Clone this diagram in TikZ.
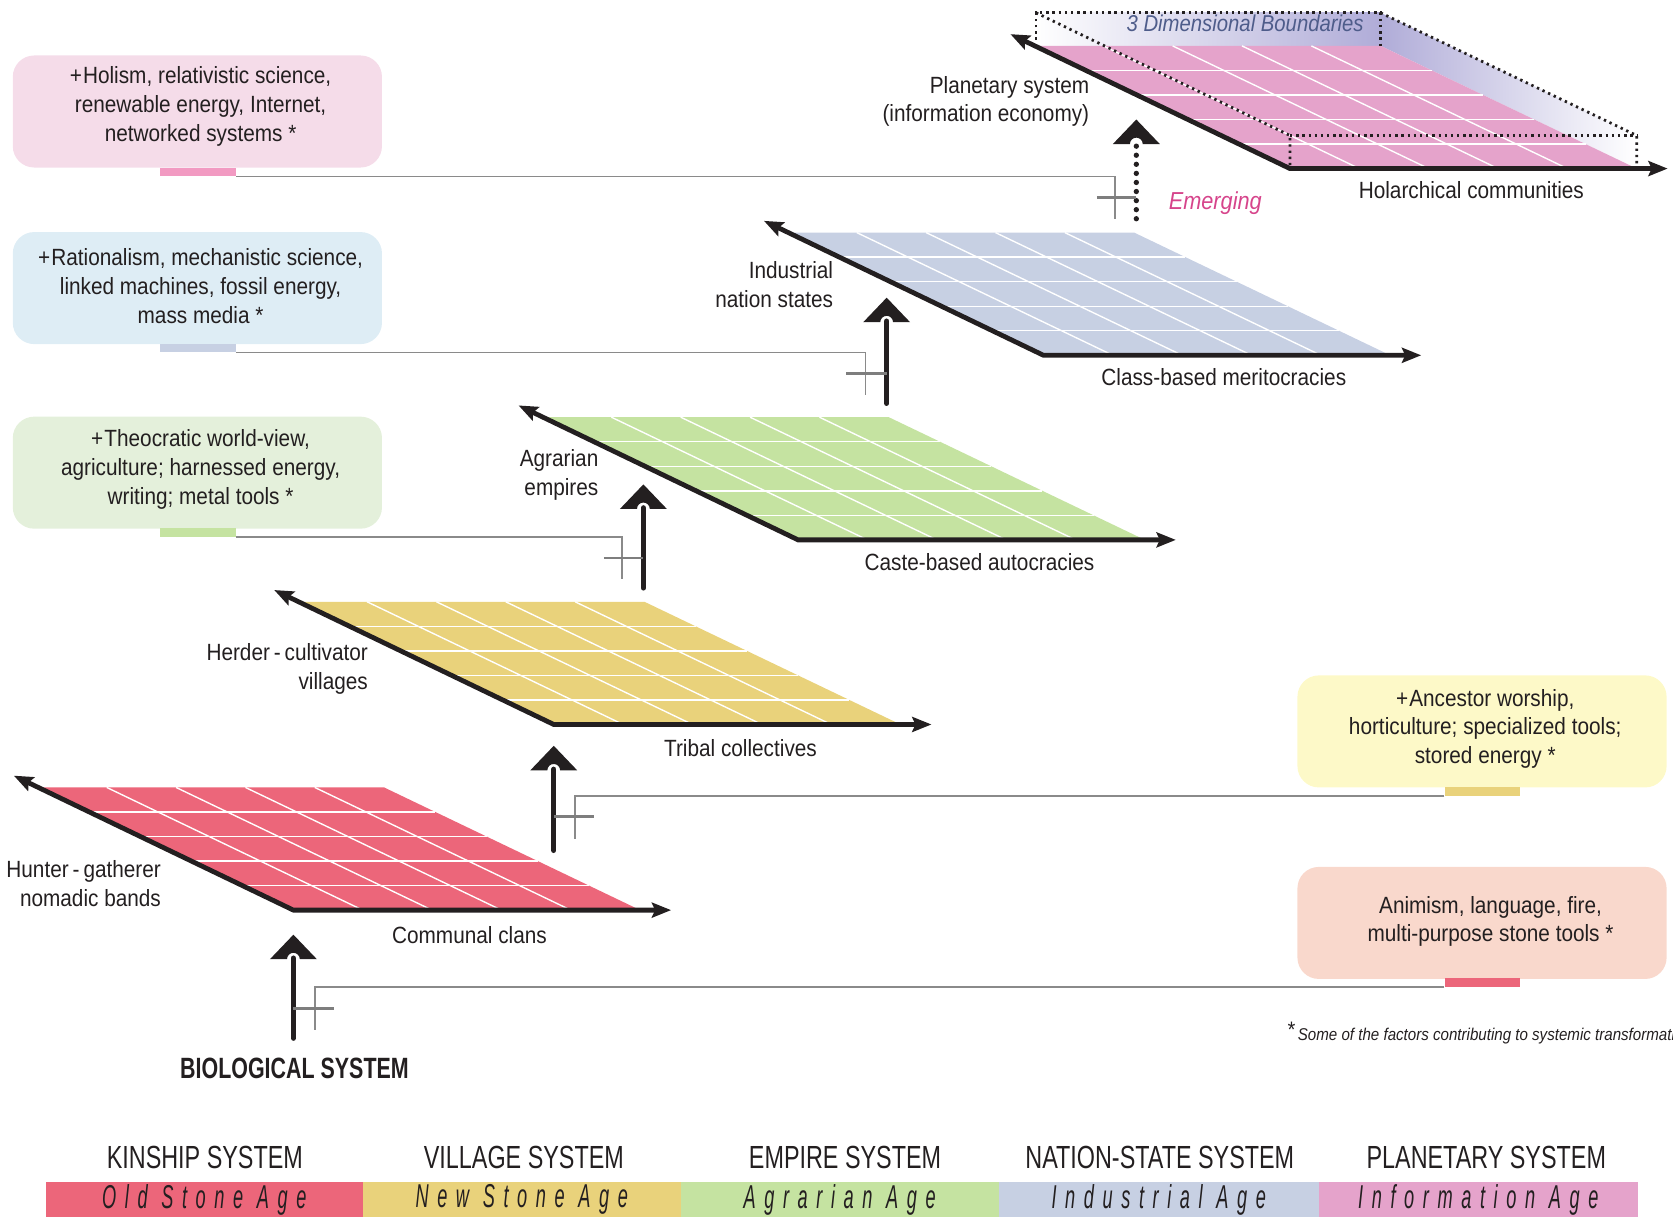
\documentclass[tikz,border=0pt]{standalone}
\usepackage{fontspec}
\setmainfont{Liberation Sans}[FakeStretch=0.885]
\newfontfamily\condfont{Liberation Sans}[FakeStretch=0.73]
\newfontfamily\agefont{Liberation Sans}[FakeStretch=0.55,LetterSpace=26]
\usetikzlibrary{arrows.meta}
\definecolor{ink}{HTML}{231F20}
\definecolor{cRed}{HTML}{EC667A}
\definecolor{cYel}{HTML}{E9D27B}
\definecolor{cGrn}{HTML}{C5E3A1}
\definecolor{cBlu}{HTML}{C7D0E3}
\definecolor{cPnk}{HTML}{E5A3CB}
\definecolor{bPnk}{HTML}{F5DCE9}
\definecolor{tPnk}{HTML}{F29AC2}
\definecolor{bBlu}{HTML}{DEEDF5}
\definecolor{bGrn}{HTML}{E4F0DB}
\definecolor{bYel}{HTML}{FDF9C8}
\definecolor{bRed}{HTML}{F9D8CC}
\definecolor{lav}{HTML}{B0ACD8}
\definecolor{emg}{HTML}{D6448B}
\definecolor{slate}{HTML}{4E5C8A}
\definecolor{connc}{HTML}{8A8A8A}
\definecolor{tickc}{HTML}{7E7E7E}

\newcommand\myplane[4]{% name, vx, vy, colour
  \coordinate (#1v) at (#2,#3);
  \coordinate (#1L) at ({#2-262},{#3-126});
  \coordinate (#1R) at ({#2+354},#3);
  \fill[#4] (#2,#3) -- ({#2+325},#3) -- ({#2+85},{#3-115}) -- ({#2-240},{#3-115}) -- cycle;
  \foreach \t in {0.2,0.4,0.6,0.8} {
    \draw[gridline] ({#2-240*\t},{#3-115*\t}) -- ({#2+325-240*\t},{#3-115*\t});
    \draw[gridline] ({#2-240+325*\t},{#3-115}) -- ({#2+325*\t},#3);
  }
  \draw[axisline] (#1L) -- (#1v) -- (#1R);
}
\newcommand\myhead[1]{%
  \fill[ink] (#1) -- ++(22,23) -- ++(-16,0) arc[start angle=0,end angle=-180,radius=6] -- ++(-16,0) -- cycle;
}

\begin{document}
\begin{tikzpicture}[x=1pt,y=-1pt,
  txt/.style={font=\fontsize{22}{27}\selectfont, text=ink, inner sep=0pt},
  factbox/.style={rounded corners=20pt, minimum width=346pt, minimum height=105pt, inner sep=0pt},
  tab/.style={minimum width=71pt, minimum height=8pt, inner sep=0pt},
  conn/.style={draw=connc, line width=1.4pt},
  tick/.style={draw=tickc, line width=2.6pt},
  upline/.style={draw=ink, line width=5pt, line cap=round},
  dotline/.style={draw=ink, line width=5pt, line cap=round, dash pattern=on 0pt off 8.5pt},
  gridline/.style={white, line width=1.3pt},
  axisline/.style={draw=ink, line width=4.5pt, line join=miter,
     {Stealth[length=18pt,width=14pt,inset=3pt]}-{Stealth[length=18pt,width=14pt,inset=3pt]}},
  boundary/.style={draw=ink, line width=2.6pt, dash pattern=on 2.2pt off 3.6pt},
  syslbl/.style={font={\condfont\fontsize{30}{32}\selectfont}, text=ink, inner sep=0pt},
  agebox/.style={minimum height=33pt, inner sep=0pt, text=ink,
     font={\agefont\itshape\fontsize{31}{32}\selectfont}}
]
\useasboundingbox (0,0) rectangle (1568,1140);

% ---------- 3D boundary shading (planetary) ----------
\shade[left color=white, right color=lav] (969,12) rectangle (1294,43);
\shade[left color=lav, right color=white] (1294,12) -- (1534,127) -- (1534,158) -- (1294,43) -- cycle;

% ---------- planes ----------
\myplane{p1}{275}{853}{cRed}
\myplane{p2}{519}{679}{cYel}
\myplane{p3}{748}{506}{cGrn}
\myplane{p4}{978}{333}{cBlu}
\myplane{p5}{1209}{158}{cPnk}

% 3D boundary dotted box
\draw[boundary] (971,43) -- (971,12) -- (1294,12) -- (1294,43);
\draw[boundary] (1294,12) -- (1534,127) -- (1534,158);
\draw[boundary] (971,12) -- (1209,127) -- (1209,158);
\draw[boundary] (1209,127) -- (1534,127);
\node[txt, font=\itshape\fontsize{21.5}{24}\selectfont, text=slate] (dim) at (1167,22) {3 Dimensional Boundaries};

% ---------- plane labels ----------
\node[txt, align=right, anchor=east] (l1a) at (151,828) {Hunter\,-\,gatherer\\nomadic bands};
\node[txt] (l1b) at (440,876) {Communal clans};
\node[txt, align=right, anchor=east] (l2a) at (345,627) {Herder\,-\,cultivator\\villages};
\node[txt] (l2b) at (694,701) {Tribal collectives};
\node[txt, align=right, anchor=east] (l3a) at (561,445) {Agrarian\\empires};
\node[txt] (l3b) at (918,527) {Caste-based autocracies};
\node[txt, align=right, anchor=east] (l4a) at (781,267) {Industrial\\nation states};
\node[txt] (l4b) at (1147,353) {Class-based meritocracies};
\node[txt, align=right, anchor=east] (l5a) at (1021,95) {Planetary system\\(information economy)};
\node[txt] (l5b) at (1379,178) {Holarchical communities};
\node[txt, font=\itshape\fontsize{23}{26}\selectfont, text=emg] (emg) at (1139,190) {Emerging};

% ---------- factor boxes ----------
\node[factbox, fill=bPnk] (b5) at (185,104.5) {};
\node[tab, fill=tPnk] (t5) at (185.5,161) {};
\node[txt, align=center] (b5t) at (188,100) {+\kern1pt Holism, relativistic science,\\renewable energy, Internet,\\networked systems *};

\node[factbox, fill=bBlu] (b4) at (185,270) {};
\node[tab, fill=cBlu] (t4) at (185.5,326) {};
\node[txt, align=center] (b4t) at (188,268) {+\kern1pt Rationalism, mechanistic science,\\linked machines, fossil energy,\\mass media *};

\node[factbox, fill=bGrn] (b3) at (185,443) {};
\node[tab, fill=cGrn] (t3) at (185.5,499) {};
\node[txt, align=center] (b3t) at (188,440) {+\kern1pt Theocratic world-view,\\agriculture; harnessed energy,\\writing; metal tools *};

\node[factbox, fill=bYel] (b2) at (1389,685.5) {};
\node[tab, fill=cYel] (t2) at (1389.5,742) {};
\node[txt, align=center] (b2t) at (1392,683) {+\kern1pt Ancestor worship,\\horticulture; specialized tools;\\stored energy *};

\node[factbox, fill=bRed] (b1) at (1389,865) {};
\node[tab, fill=cRed] (t1) at (1389.5,921) {};
\node[txt, align=center] (b1t) at (1397,863.5) {Animism, language, fire,\\multi-purpose stone tools *};

% ---------- upward arrows ----------
\coordinate (a1b) at (275,973); \coordinate (a1t) at (275,898); \coordinate (h1) at (275,876);
\coordinate (a2b) at (519,797); \coordinate (a2t) at (519,721); \coordinate (h2) at (519,699);
\coordinate (a3b) at (603,551); \coordinate (a3t) at (603,476); \coordinate (h3) at (603,454);
\coordinate (a4b) at (831,378); \coordinate (a4t) at (831,301); \coordinate (h4) at (831,279);
\coordinate (a5b) at (1065,205); \coordinate (a5t) at (1065,137); \coordinate (h5) at (1065,112);
\draw[upline] (a1b) -- (a1t); \myhead{h1}
\draw[upline] (a2b) -- (a2t); \myhead{h2}
\draw[upline] (a3b) -- (a3t); \myhead{h3}
\draw[upline] (a4b) -- (a4t); \myhead{h4}
\draw[dotline] (a5b) -- (a5t); \myhead{h5}

% ---------- connectors ----------
\coordinate (c1) at (295,965); \coordinate (k1a) at (275,945); \coordinate (k1b) at (313,945);
\coordinate (c2) at (539,786); \coordinate (k2a) at (519,765); \coordinate (k2b) at (557,765);
\coordinate (c3) at (583,543); \coordinate (k3a) at (566,523); \coordinate (k3b) at (603,523);
\coordinate (c4) at (811,370); \coordinate (k4a) at (793,350); \coordinate (k4b) at (831,350);
\coordinate (c5) at (1045,205); \coordinate (k5a) at (1028,185); \coordinate (k5b) at (1065,185);
\draw[conn] (t1.south west) -| (c1); \draw[tick] (k1a) -- (k1b);
\draw[conn] (t2.south west) -| (c2); \draw[tick] (k2a) -- (k2b);
\draw[conn] (t3.south east) -| (c3); \draw[tick] (k3a) -- (k3b);
\draw[conn] (t4.south east) -| (c4); \draw[tick] (k4a) -- (k4b);
\draw[conn] (t5.south east) -| (c5); \draw[tick] (k5a) -- (k5b);

% ---------- bottom texts ----------
\node[txt, font={\condfont\bfseries\fontsize{27.5}{30}\selectfont}] (bio) at (276,1001) {BIOLOGICAL SYSTEM};
\node[txt, anchor=west, font=\itshape\fontsize{16}{18}\selectfont] (note) at (1206,968)
  {\raisebox{3pt}{\fontsize{21}{21}\selectfont *}\kern3pt Some of the factors contributing to systemic transformation};

\node[syslbl] (s1) at (192,1085) {KINSHIP SYSTEM};
\node[syslbl] (s2) at (491,1085) {VILLAGE SYSTEM};
\node[syslbl] (s3) at (792,1085) {EMPIRE SYSTEM};
\node[syslbl] (s4) at (1087,1085) {NATION-STATE SYSTEM};
\node[syslbl] (s5) at (1393,1085) {PLANETARY SYSTEM};

\node[agebox, fill=cRed, minimum width=297pt] (g1) at (191.5,1124.5) {Old Stone Age};
\node[agebox, fill=cYel, minimum width=298pt] (g2) at (489,1124.5) {New Stone Age};
\node[agebox, fill=cGrn, minimum width=298pt] (g3) at (787,1124.5) {Agrarian Age};
\node[agebox, fill=cBlu, minimum width=300pt] (g4) at (1086,1124.5) {Industrial Age};
\node[agebox, fill=cPnk, minimum width=299pt] (g5) at (1385.5,1124.5) {Information Age};
\end{tikzpicture}
\end{document}
